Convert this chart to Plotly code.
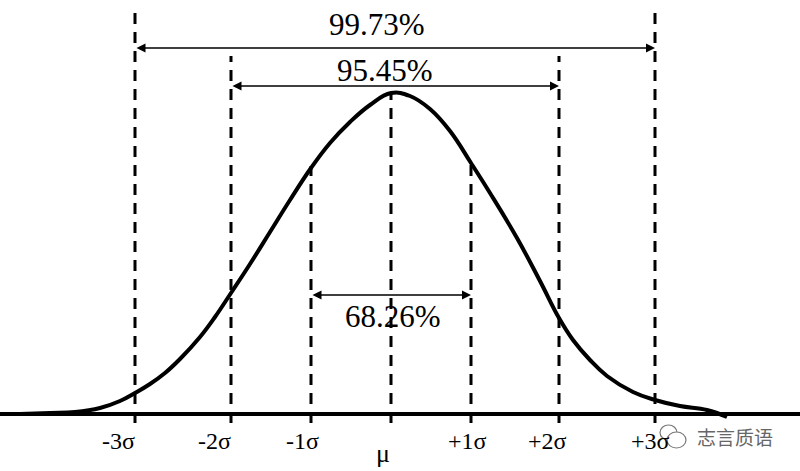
import plotly.graph_objects as go

# ---- data (x in drawing units, heights above the baseline) ----
sigma_labels = ['-3σ', '-2σ', '-1σ', 'μ', '+1σ', '+2σ', '+3σ']
line_x = [135, 231, 311, 391, 471, 559, 655]
line_top = [401, 358, 248, 321, 252, 358, 401]
label_shift = [-17, -17, -9, -8, -4, -12, -5]

curve_x = [20, 50, 75, 100, 120, 135, 150, 165, 180, 200, 215, 231, 250, 270, 290, 311, 330,
           350, 370, 391, 410, 430, 450, 471, 490, 517, 540, 559, 573, 590, 607, 633, 655,
           680, 707, 727]
curve_h = [0, 1, 2, 6, 13, 21, 30, 41, 55, 77, 97, 121, 150, 182, 214, 246, 271,
           292, 309, 321, 318, 305, 283, 251, 221, 176, 133, 96, 74, 54, 38, 22, 14,
           8, 4, -3]

pct_labels = ['99.73%', '95.45%', '68.26%']
pct_left = [135, 231, 311]
pct_right = [655, 559, 471]
pct_arrow_h = [366, 328, 119]
pct_text_x = [377, 385, 393]
pct_text_h = [390, 344, 98]

watermark = '志言质语'

SERIF = 'Liberation Serif'

fig = go.Figure()

# baseline
fig.add_trace(go.Scatter(x=[0, 800], y=[0, 0], mode='lines',
                         line=dict(color='black', width=4), hoverinfo='skip'))

# dashed verticals
for x, top in zip(line_x, line_top):
    fig.add_trace(go.Scatter(x=[x, x], y=[-9, top], mode='lines',
                             line=dict(color='black', width=3, dash='11px,8px'),
                             hoverinfo='skip'))

# curve
fig.add_trace(go.Scatter(x=curve_x, y=curve_h, mode='lines',
                         line=dict(color='black', width=4, shape='spline', smoothing=1.2),
                         hoverinfo='skip'))

annotations = []
# arrows + percentages
for lab, xl, xr, ah, tx, th in zip(pct_labels, pct_left, pct_right, pct_arrow_h, pct_text_x, pct_text_h):
    annotations.append(dict(x=xr, y=ah, ax=xl, ay=ah, xref='x', yref='y', axref='x', ayref='y',
                            text='', showarrow=True, arrowhead=2, arrowside='end+start',
                            arrowsize=1.2, arrowwidth=1.5, arrowcolor='black',
                            standoff=0, startstandoff=0))
    annotations.append(dict(x=tx, y=th, xref='x', yref='y', text=lab, showarrow=False,
                            font=dict(family=SERIF, size=31, color='black'),
                            xanchor='center', yanchor='middle'))

# sigma labels
for lab, x, sh in zip(sigma_labels, line_x, label_shift):
    annotations.append(dict(x=x, y=(-39 if lab == 'μ' else -27), xref='x', yref='y', text=lab,
                            showarrow=False, xshift=sh,
                            font=dict(family=SERIF, size=(26 if lab == 'μ' else 24), color='black'),
                            xanchor='center', yanchor='middle'))

# watermark
annotations.append(dict(x=735, y=-22, xref='x', yref='y', text=watermark, showarrow=False,
                        font=dict(family='Noto Sans CJK SC', size=19, color='#666666'),
                        xanchor='center', yanchor='middle'))

shapes = [
    dict(type='circle', xref='x', yref='y', x0=660, x1=677, y0=-26, y1=-11,
         line=dict(color='#777777', width=1.2), fillcolor='white', layer='above'),
    dict(type='circle', xref='x', yref='y', x0=667, x1=686, y0=-34, y1=-18,
         line=dict(color='#777777', width=1.2), fillcolor='white', layer='above'),
]

fig.update_layout(
    width=800, height=471,
    margin=dict(l=0, r=0, t=0, b=0),
    paper_bgcolor='white', plot_bgcolor='white',
    showlegend=False,
    xaxis=dict(range=[0, 800], visible=False, fixedrange=True),
    yaxis=dict(range=[-57, 414], visible=False, fixedrange=True),
    annotations=annotations,
    shapes=shapes,
)

fig.write_html('out.html', config={'displayModeBar': False},
               post_script="document.body.style.margin='0';document.body.style.overflow='hidden';")
